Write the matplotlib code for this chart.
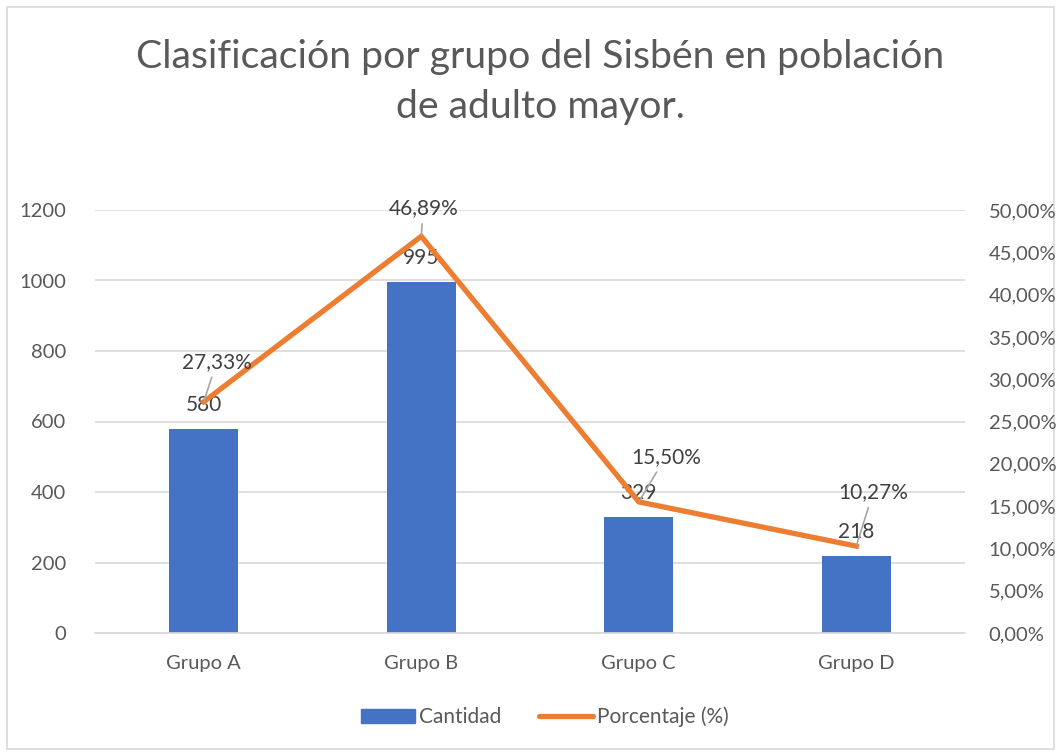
import matplotlib
matplotlib.use("Agg")
import matplotlib.pyplot as plt
from matplotlib.patches import Rectangle
from matplotlib.lines import Line2D
from matplotlib.ticker import FuncFormatter, MultipleLocator

plt.rcParams['font.family'] = ['Lato', 'DejaVu Sans']

categories = ["Grupo A", "Grupo B", "Grupo C", "Grupo D"]
cantidad = [580, 995, 329, 218]
porcentaje = [27.33, 46.89, 15.50, 10.27]
title = "Clasificación por grupo del Sisbén en población\nde adulto mayor."

BLUE = "#4472C4"
ORANGE = "#ED7D31"
TXT = "#595959"
LBL = "#404040"
FS = 15
TFS = 14.5

W, H = 1062, 754
fig = plt.figure(figsize=(W/100, H/100), dpi=100)
fig.patches.append(Rectangle((7/W, 1-749/H), (1054-7)/W, (749-7)/H, transform=fig.transFigure,
                             fill=False, edgecolor="#D9D9D9", linewidth=1.2))

ax = fig.add_axes([95/W, 1-633/H, (965-95)/W, (633-210)/H])
x = list(range(len(categories)))
ax.bar(x, cantidad, width=0.315, color=BLUE, zorder=2)
ax.set_xlim(-0.5, 3.5)
ax.set_ylim(0, 1200)
ax.yaxis.set_major_locator(MultipleLocator(200))
ax.grid(axis='y', color="#D9D9D9", linewidth=1.2, zorder=0)
ax.set_axisbelow(True)
for s in ['top', 'right', 'left']:
    ax.spines[s].set_visible(False)
ax.spines['bottom'].set_color("#D9D9D9")
ax.spines['bottom'].set_linewidth(1.2)
ax.set_xticks(x)
ax.set_xticklabels(categories)
ax.tick_params(axis='both', length=0, labelsize=TFS, labelcolor=TXT)
ax.tick_params(axis='x', pad=16)
ax.tick_params(axis='y', pad=21)

ax2 = ax.twinx()
ax2.plot(x, porcentaje, color=ORANGE, linewidth=3.8, solid_joinstyle='miter', zorder=3)
ax2.set_ylim(0, 50)
ax2.yaxis.set_major_locator(MultipleLocator(5))
ax2.yaxis.set_major_formatter(FuncFormatter(lambda v, p: f"{v:.2f}".replace('.', ',') + "%"))
for s in ['top', 'right', 'left', 'bottom']:
    ax2.spines[s].set_visible(False)
ax2.tick_params(axis='y', length=0, labelsize=TFS, labelcolor=TXT, pad=17)

# bar value labels
for xi, v in zip(x, cantidad):
    ax.annotate(str(v), (xi, v), xytext=(0, 24), textcoords='offset pixels',
                ha='center', va='center', fontsize=FS, color=LBL, zorder=5)

# percentage labels with leader lines
offsets = [(13, 40), (2, 28), (27, 45), (17, 54)]
for xi, p, (dx, dy) in zip(x, porcentaje, offsets):
    ax2.annotate(f"{p:.2f}".replace('.', ',') + "%", (xi, p), xytext=(dx, dy),
                 textcoords='offset pixels', ha='center', va='center',
                 fontsize=FS, color=LBL, zorder=5,
                 arrowprops=dict(arrowstyle='-', color="#A6A6A6", lw=1.2,
                                 shrinkA=2, shrinkB=1))

ax.set_zorder(1)
ax2.set_zorder(2)

fig.text(540/W, 1-82/H, title, ha='center', va='center', fontsize=28.3,
         color=TXT, linespacing=1.45)

handles = [Rectangle((0, 0), 1, 1, color=BLUE),
           Line2D([0], [0], color=ORANGE, linewidth=3.8, solid_capstyle='round')]
fig.legend(handles, ["Cantidad", "Porcentaje (%)"], loc='center',
           bbox_to_anchor=(545/W, 1-717/H), ncol=2, frameon=False,
           fontsize=FS, labelcolor=TXT, handlelength=2.6, handletextpad=0.2,
           columnspacing=1.8)

fig.savefig("out.png", dpi=100)
